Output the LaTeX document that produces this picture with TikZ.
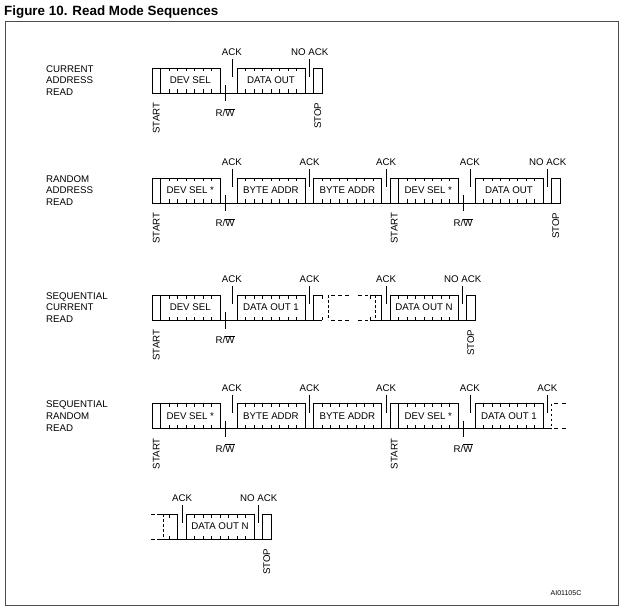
\documentclass[tikz,border=0pt]{standalone}
\usepackage{fontspec}
\setmainfont{Liberation Sans}
\tikzset{
  wave/.style={line width=0.8pt, black},
  dsh/.style={wave, dash pattern=on 2.5pt off 2.5pt},
  lbl/.style={font=\fontsize{9.7}{11.7}\selectfont, inner sep=0pt},
  vlbl/.style={lbl, rotate=90, anchor=east},
  rowlbl/.style={lbl, align=left, anchor=west},
}
% helpers (use \rT and \rB of the current row)
\newcommand{\wticks}[2]{\foreach \i in {#1,...,#2}{\draw[wave] (\i,\rT) -- ++(0,3.5) (\i,\rB) -- ++(0,-3.5);}}
\newcommand{\wbox}[2]{\draw[wave] (#1,\rT) rectangle (#2,\rB);}
\newcommand{\wlow}[2]{\draw[wave] (#1,\rB) -- (#2,\rB);}
\newcommand{\ackmark}[3]{\draw[wave] ({#1},{\rT-9}) -- ({#1},{\rT+9});
  \node[lbl] (#3) at ({#1},{\rT-15.5}) {#2};}
\newcommand{\rwmark}[2]{\draw[wave] ({#1},{\rB-8}) -- ({#1},{\rB+8.5});
  \node[lbl] (#2) at ({#1},{\rB+19.5}) {R/$\overline{\hbox{W}}$};}
\newcommand{\vmark}[3]{\node[vlbl] (#3) at ({#1},{\rB+9.5}) {#2};}
\newcommand{\btext}[3]{\node[lbl] (#3) at ({#1},{(\rT+\rB)/2}) {#2};}
\begin{document}
\begin{tikzpicture}[x=1pt, y=-1pt]
\useasboundingbox (0,0) rectangle (627,615);
\node[anchor=west, inner sep=0pt, font=\bfseries\fontsize{13.4}{15}\selectfont] (title) at (4,12) {Figure 10. Read Mode Sequences};
\draw[gray!60!black, line width=1pt] (5.5,21.5) rectangle (618.5,605.5);
\node[inner sep=0pt, font=\fontsize{7}{8}\selectfont] (code) at (566,593) {AI01105C};

% ---------------- Row 1
\node[rowlbl] (l1) at (46,80.5) {CURRENT\\ADDRESS\\READ};
\begin{scope}[x=8.5pt, xshift=152pt]
\def\rT{68}\def\rB{93}
\wbox{0}{1}
\wbox{1}{8}\wticks{2}{7}
\wlow{8}{10}
\wbox{10}{18}\wticks{11}{17}
\wlow{18}{19}
\wbox{19}{20}
\rwmark{8.6}{rw1}
\ackmark{9.4}{ACK}{a11}
\ackmark{18.55}{NO ACK}{a12}
\vmark{0.5}{START}{s11}
\vmark{19.5}{STOP}{p11}
\btext{4.5}{DEV SEL}{b11}
\btext{14}{DATA OUT}{b12}
\end{scope}

% ---------------- Row 2
\node[rowlbl] (l2) at (46,190.5) {RANDOM\\ADDRESS\\READ};
\begin{scope}[x=8.5pt, xshift=152pt]
\def\rT{178}\def\rB{203}
\wbox{0}{1}
\wbox{1}{8}\wticks{2}{7}
\wlow{8}{10}
\wbox{10}{18}\wticks{11}{17}
\wlow{18}{19}
\wbox{19}{27}\wticks{20}{26}
\wlow{27}{28}
\wbox{28}{29}
\wbox{29}{36}\wticks{30}{35}
\wlow{36}{38}
\wbox{38}{46}\wticks{39}{45}
\wlow{46}{47}
\wbox{47}{48}
\rwmark{8.6}{rw21}
\rwmark{36.6}{rw22}
\ackmark{9.4}{ACK}{a21}
\ackmark{18.55}{ACK}{a22}
\ackmark{27.55}{ACK}{a23}
\ackmark{37.4}{ACK}{a24}
\ackmark{46.55}{NO ACK}{a25}
\vmark{0.5}{START}{s21}
\vmark{28.5}{START}{s22}
\vmark{47.5}{STOP}{p21}
\btext{4.5}{DEV SEL *}{b21}
\btext{14}{BYTE ADDR}{b22}
\btext{23}{BYTE ADDR}{b23}
\btext{32.5}{DEV SEL *}{b24}
\btext{42}{DATA OUT}{b25}
\end{scope}

% ---------------- Row 3
\node[rowlbl] (l3) at (46,307.5) {SEQUENTIAL\\CURRENT\\READ};
\begin{scope}[x=8.5pt, xshift=152pt]
\def\rT{295}\def\rB{320}
\wbox{0}{1}
\wbox{1}{8}\wticks{2}{7}
\wlow{8}{10}
\wbox{10}{18}\wticks{11}{17}
\wlow{18}{19}
% omitted bytes, drawn dashed
\draw[wave] (20,\rT) -- (19,\rT) -- (19,\rB) -- (20,\rB);
\wticks{20}{20}
\draw[dsh] (20.7,\rT) -- (20.7,\rB);
\foreach \a in {21.1,21.9,22.7,24.2,25.0}{
  \draw[wave] (\a,\rT) -- ++(0.45,0) (\a,\rB) -- ++(0.45,0);}
\wticks{25.7}{25.7}
\draw[dsh] (26.3,\rT) -- (26.3,\rB);
\draw[wave] (25.7,\rT) -- (27,\rT) -- (27,\rB) -- (25.7,\rB);
\wlow{27}{28}
\wbox{28}{36}\wticks{29}{35}
\wlow{36}{37}
\wbox{37}{38}
\rwmark{8.6}{rw31}
\ackmark{9.4}{ACK}{a31}
\ackmark{18.55}{ACK}{a32}
\ackmark{27.55}{ACK}{a33}
\ackmark{36.55}{NO ACK}{a34}
\vmark{0.5}{START}{s31}
\vmark{37.5}{STOP}{p31}
\btext{4.5}{DEV SEL}{b31}
\btext{14}{DATA OUT 1}{b32}
\btext{32}{DATA OUT N}{b33}
\end{scope}

% ---------------- Row 4
\node[rowlbl] (l4) at (46,416) {SEQUENTIAL\\RANDOM\\READ};
\begin{scope}[x=8.5pt, xshift=152pt]
\def\rT{403.5}\def\rB{428.5}
\wbox{0}{1}
\wbox{1}{8}\wticks{2}{7}
\wlow{8}{10}
\wbox{10}{18}\wticks{11}{17}
\wlow{18}{19}
\wbox{19}{27}\wticks{20}{26}
\wlow{27}{28}
\wbox{28}{29}
\wbox{29}{36}\wticks{30}{35}
\wlow{36}{38}
\wbox{38}{46}\wticks{39}{45}
\wlow{46}{47}
\draw[dsh] (47,\rT) -- (47,\rB);
\foreach \a in {47.3,48.2}{
  \draw[wave] (\a,\rT) -- ++(0.5,0) (\a,\rB) -- ++(0.5,0);}
\rwmark{8.6}{rw41}
\rwmark{36.6}{rw42}
\ackmark{9.4}{ACK}{a41}
\ackmark{18.55}{ACK}{a42}
\ackmark{27.55}{ACK}{a43}
\ackmark{37.4}{ACK}{a44}
\ackmark{46.5}{ACK}{a45}
\vmark{0.5}{START}{s41}
\vmark{28.5}{START}{s42}
\btext{4.5}{DEV SEL *}{b41}
\btext{14}{BYTE ADDR}{b42}
\btext{23}{BYTE ADDR}{b43}
\btext{32.5}{DEV SEL *}{b44}
\btext{42}{DATA OUT 1}{b45}
\end{scope}

% ---------------- Row 5
\begin{scope}[x=8.5pt, xshift=169pt]
\def\rT{514}\def\rB{539}
\foreach \a in {-2.1,-1.4}{
  \draw[wave] (\a,\rT) -- ++(0.4,0) (\a,\rB) -- ++(0.4,0);}
\draw[dsh] (-0.7,\rT) -- (-0.7,\rB);
\draw[wave] (-0.9,\rT) -- (1,\rT) -- (1,\rB);
\draw[wave] (-0.9,\rB) -- (2,\rB);
\wticks{0}{0}
\wbox{2}{10}\wticks{3}{9}
\wlow{10}{11}
\wbox{11}{12}
\ackmark{1.55}{ACK}{a51}
\ackmark{10.55}{NO ACK}{a52}
\vmark{11.5}{STOP}{p51}
\btext{6}{DATA OUT N}{b51}
\end{scope}
\end{tikzpicture}
\end{document}
